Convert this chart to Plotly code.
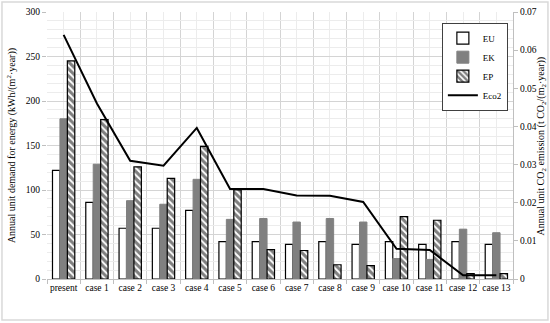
import plotly.graph_objects as go

categories = ["present", "case 1", "case 2", "case 3", "case 4", "case 5", "case 6",
              "case 7", "case 8", "case 9", "case 10", "case 11", "case 12", "case 13"]
eu = [122, 86, 57, 57, 77, 42, 42, 39, 42, 39, 42, 39, 42, 39]
ek = [180, 129, 88, 84, 112, 67, 68, 64, 68, 64, 23, 22, 56, 52]
ep = [245, 179, 126, 113, 149, 100, 33, 32, 16, 15, 70, 66, 6, 6]
eco2 = [0.064, 0.046, 0.031, 0.0297, 0.0396, 0.0236, 0.0236, 0.0219, 0.0218, 0.0202,
        0.0079, 0.0076, 0.001, 0.001]

xs = list(range(len(categories)))
bounds = [i - 0.5 for i in range(len(categories) + 1)]
FONT = "Liberation Serif"

fig = go.Figure()
fig.add_trace(go.Bar(x=xs, y=eu, name="EU", marker=dict(color="white", line=dict(color="black", width=1.2))))
fig.add_trace(go.Bar(x=xs, y=ek, name="EK", marker=dict(color="#808080", line=dict(color="#808080", width=1))))
fig.add_trace(go.Bar(x=xs, y=ep, name="EP",
                     marker=dict(color="white", line=dict(color="black", width=1.2),
                                 pattern=dict(shape="\\", fgcolor="black", bgcolor="white",
                                              size=5, solidity=0.62))))
fig.add_trace(go.Scatter(x=xs, y=eco2, name="Eco2", mode="lines", yaxis="y2",
                         line=dict(color="black", width=2)))

fig.update_layout(
    width=550, height=323,
    autosize=False,
    margin=dict(l=47, r=37, t=12, b=44, autoexpand=False),
    paper_bgcolor="white", plot_bgcolor="white",
    font=dict(family=FONT, size=10, color="#404040"),
    barmode="group", bargap=0.33, bargroupgap=0,
    showlegend=True,
    legend=dict(x=0.989, y=0.96, xanchor="right", yanchor="top",
                bordercolor="#404040", borderwidth=1, bgcolor="white",
                font=dict(family=FONT, size=9, color="black"),
                itemwidth=30, tracegroupgap=0),
    xaxis=dict(range=[-0.5, len(categories) - 0.5], tickmode="array", tickvals=xs,
               ticktext=categories, ticks="", showgrid=True, gridcolor="#ececec",
               gridwidth=1, showline=True, linecolor="#bfbfbf", zeroline=False,
               automargin=False,
               tickfont=dict(family=FONT, size=9.5, color="black"),
               minor=dict(tickmode="array", tickvals=bounds, ticks="outside", ticklen=4,
                          tickcolor="#bfbfbf", showgrid=True, gridcolor="#d4d4d4")),
    yaxis=dict(range=[0, 300], dtick=50, ticks="outside", ticklen=4, tickcolor="#bfbfbf",
               showgrid=True, gridcolor="#d4d4d4", zeroline=False, showline=False,
               automargin=False,
               tickfont=dict(family=FONT, size=9.5, color="black"),
               minor=dict(dtick=10, showgrid=True, gridcolor="#ececec"),
               title=dict(text="Annual unit demand for energy (kWh/(m<sup>2</sup>·year))",
                          font=dict(family=FONT, size=10, color="black"), standoff=8)),
    yaxis2=dict(range=[0, 0.07], dtick=0.01, overlaying="y", side="right",
                ticks="outside", ticklen=4, tickcolor="#bfbfbf", showgrid=False,
                zeroline=False, showline=True, linecolor="#bfbfbf",
                tickformat="~g", automargin=False,
                tickfont=dict(family=FONT, size=9.5, color="black")),
    annotations=[dict(text="Annual unit CO<sub>2</sub> emission (t CO<sub>2</sub>/(m<sub>2</sub>·year))",
                      xref="paper", yref="paper", x=1.062, y=0.5, xanchor="center",
                      yanchor="middle", textangle=-90, showarrow=False,
                      font=dict(family=FONT, size=10, color="black"))],
    shapes=[dict(type="rect", xref="paper", yref="paper", x0=-0.0966, x1=1.075,
                 y0=-0.1536, y1=1.0375, line=dict(color="#d9d9d9", width=1.5),
                 layer="below")],
)

fig.write_html("out.html", config={"displayModeBar": False},
               post_script="document.body.style.margin='0';document.body.style.overflow='hidden';")
